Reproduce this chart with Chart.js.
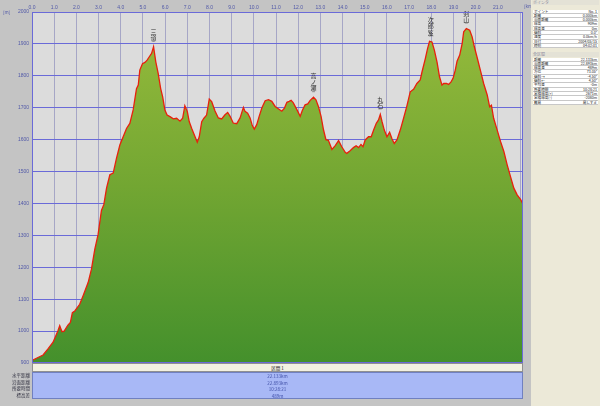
<!DOCTYPE html>
<html><head><meta charset="utf-8">
<script src="https://cdn.jsdelivr.net/npm/chart.js@4/dist/chart.umd.min.js"></script>
<style>
html,body{margin:0;padding:0;background:#c4c4c4;}
#wrap{position:relative;width:600px;height:406px;overflow:hidden;background:#c4c4c4;font-family:"Noto Sans CJK JP","DejaVu Sans",sans-serif;}
canvas{position:absolute;left:0;top:0;}
.abs{position:absolute;white-space:nowrap;}
#side{left:531px;top:0;width:69px;height:406px;background:#ece9d8;}
.hdr{position:absolute;left:1px;width:67px;height:5px;font-size:4px;line-height:5px;color:#9090a0;background:#e4e2d6;padding-left:1px;box-sizing:border-box;}
.row{position:absolute;left:2px;width:65px;height:4.33px;font-size:3.6px;line-height:4.33px;color:#202020;background:#fff;border-bottom:0.5px solid #c8c8c8;box-sizing:border-box;}
.row span.l{position:absolute;left:1px;}
.row span.v{position:absolute;right:1px;}
#sec{left:32px;top:363px;width:491px;height:9px;background:#f3f1e2;border:0.5px solid #909090;box-sizing:border-box;font-size:4.5px;line-height:9px;text-align:center;color:#202020;}
#blue{left:32px;top:372px;width:491px;height:27px;background:#a8b8f6;border:0.5px solid #7080c0;box-sizing:border-box;}
.bv{position:absolute;left:0;width:100%;text-align:center;font-size:4.5px;height:6.5px;line-height:6.5px;color:#4050a8;}
.bl{position:absolute;right:570px;font-size:4.5px;height:6.5px;line-height:6.5px;color:#303040;text-align:right;}
</style></head>
<body><div id="wrap">
<canvas id="c" width="600" height="406"></canvas>
<div class="abs" style="left:3px;top:9px;font-size:4.5px;color:#5058a8;">[m]</div>
<div class="abs" style="left:524px;top:3px;font-size:4.5px;color:#5058a8;">[km]</div>
<div class="abs" id="side"></div>
<div class="abs" id="sec">区間 1</div>
<div class="abs" id="blue"></div>
</div>
<script>
// ---- data (distance km, elevation m) ----
const dist = [0.00,0.20,0.50,0.72,0.95,1.17,1.25,1.35,1.45,1.62,1.73,1.82,1.93,2.15,2.30,2.53,2.68,2.83,2.98,3.13,3.24,3.36,3.51,3.66,3.81,3.96,4.11,4.26,4.41,4.56,4.71,4.79,4.86,4.98,5.09,5.19,5.28,5.39,5.48,5.58,5.69,5.80,5.89,5.99,6.09,6.22,6.37,6.52,6.67,6.79,6.89,7.00,7.09,7.20,7.35,7.45,7.54,7.65,7.75,7.87,7.99,8.10,8.25,8.40,8.55,8.70,8.82,8.93,9.07,9.23,9.38,9.53,9.60,9.72,9.83,9.93,10.02,10.13,10.24,10.36,10.51,10.66,10.81,10.96,11.10,11.26,11.38,11.49,11.59,11.68,11.78,11.94,12.09,12.19,12.31,12.43,12.54,12.69,12.80,12.91,13.03,13.14,13.25,13.36,13.52,13.67,13.82,13.97,14.12,14.19,14.34,14.49,14.61,14.72,14.83,14.92,15.02,15.17,15.29,15.40,15.52,15.62,15.70,15.78,15.88,16.00,16.12,16.23,16.33,16.45,16.60,16.75,16.90,17.05,17.20,17.35,17.50,17.58,17.73,17.83,17.92,18.03,18.14,18.26,18.37,18.48,18.56,18.68,18.78,18.89,18.98,19.08,19.16,19.28,19.39,19.46,19.58,19.73,19.84,19.94,20.06,20.21,20.36,20.52,20.63,20.71,20.81,20.97,21.12,21.27,21.42,21.57,21.72,21.87,22.02,22.133];
const elev = [908,915,925,944,965,1001,1017,998,1000,1019,1027,1058,1063,1084,1110,1152,1194,1256,1303,1378,1397,1448,1490,1495,1542,1583,1609,1635,1651,1693,1760,1771,1818,1838,1842,1849,1859,1870,1891,1844,1807,1760,1734,1693,1677,1672,1665,1667,1658,1667,1706,1688,1656,1635,1609,1592,1609,1656,1667,1677,1727,1719,1690,1668,1665,1678,1685,1673,1652,1650,1668,1701,1689,1683,1668,1644,1633,1647,1673,1699,1722,1725,1720,1704,1697,1689,1699,1717,1720,1723,1715,1694,1673,1692,1709,1712,1723,1733,1725,1704,1673,1631,1600,1598,1569,1581,1597,1577,1560,1557,1565,1575,1581,1575,1585,1578,1599,1609,1609,1630,1651,1662,1679,1656,1630,1609,1623,1602,1588,1599,1630,1667,1706,1750,1758,1776,1787,1812,1854,1885,1908,1906,1880,1842,1797,1771,1776,1776,1773,1781,1792,1818,1846,1865,1901,1938,1948,1943,1922,1891,1859,1818,1776,1740,1703,1708,1667,1630,1594,1563,1521,1484,1448,1427,1413,1398];
const peakNames = ["三嶺","高ノ瀬","丸石","次郎笈","剣山"];
const peakKm    = [5.48,12.69,15.70,17.97,19.58];
const peakElev  = [1891,1733,1679,1908,1948];

const pointLabels = ["ポイント","距離","沿面距離","標高","標高差","傾斜","速度","日付","時刻"];
const pointValues = ["No. 1","0.000km","0.000km","909m","0m","0.0°","0.0km/h","2004/05/15","04:02:01"];
const totalLabels = ["距離","沿面距離","標高差","方位","傾斜→","傾斜←","平均差","所要時間","累積標高(+)","累積標高(-)","難易"];
const totalValues = ["22.133km","22.893km","489m","73.05°","-4.50°","4.50°","-0m","10:28:21","2671m","-2080m","易しすぎ"];
const secLabels = ["水平距離","沿面距離","所要時間","標高差"];
const secValues = ["22.133km","22.893km","10:28:21","489m"];

// ---- side panel & bottom table (text) ----
const side = document.getElementById('side');
function addHdr(t, top){const d=document.createElement('div');d.className='hdr';d.style.top=top+'px';d.textContent=t;side.appendChild(d);}
function addRows(labels, values, top){labels.forEach((l,i)=>{const r=document.createElement('div');r.className='row';r.style.top=(top+i*4.33)+'px';r.innerHTML='<span class="l"></span><span class="v"></span>';r.children[0].textContent=l;r.children[1].textContent=values[i];side.appendChild(r);});}
addHdr('ポインタ',0); addRows(pointLabels,pointValues,9.5);
addHdr('全区間',52); addRows(totalLabels,totalValues,57.5);
const blue=document.getElementById('blue'), wrap=document.getElementById('wrap');
secValues.forEach((v,i)=>{const d=document.createElement('div');d.className='bv';d.style.top=(i*6.5)+'px';d.textContent=v;blue.appendChild(d);
 const l=document.createElement('div');l.className='abs bl';l.style.top=(372+i*6.5)+'px';l.textContent=secLabels[i];wrap.appendChild(l);});

// ---- chart ----
const pts = dist.map((d,i)=>({x:d,y:elev[i]}));
const bgPlugin = {id:'bg', beforeDraw(ch){const {ctx,chartArea:a}=ch;ctx.save();ctx.fillStyle='#c4c4c4';ctx.fillRect(0,0,ch.width,ch.height);ctx.fillStyle='#dcdcdc';ctx.fillRect(a.left,a.top,a.right-a.left,a.bottom-a.top);ctx.restore();},
 afterDraw(ch){const {ctx,chartArea:a}=ch;ctx.save();ctx.strokeStyle='#6a6ad8';ctx.lineWidth=1;ctx.strokeRect(a.left+0.5,a.top+0.5,a.right-a.left-1,a.bottom-a.top-1);ctx.restore();}};
const peakPlugin = {id:'peaks', afterDatasetsDraw(ch){const {ctx,scales:{x,y}}=ch;ctx.save();ctx.font='6px "Noto Sans CJK JP"';ctx.fillStyle='#303030';ctx.textAlign='center';ctx.textBaseline='bottom';
 peakNames.forEach((n,i)=>{const px=x.getPixelForValue(peakKm[i]);let py=y.getPixelForValue(peakElev[i])-6;
  ctx.strokeStyle='#606060';ctx.lineWidth=0.6;ctx.beginPath();ctx.moveTo(px-1.5,py+0.5);ctx.lineTo(px+1.5,py+0.5);ctx.stroke();
  const chars=[...n];for(let k=chars.length-1;k>=0;k--){ctx.fillText(chars[k],px,py);py-=6.2;}});ctx.restore();}};
new Chart(document.getElementById('c'),{
 type:'line',
 data:{datasets:[{data:pts,borderColor:'#e8200c',borderWidth:1.3,pointRadius:0,tension:0,fill:'start',
  backgroundColor:(ctx)=>{const a=ctx.chart.chartArea;if(!a)return '#6aa032';const g=ctx.chart.ctx.createLinearGradient(0,a.top,0,a.bottom);g.addColorStop(0,'#98bc3c');g.addColorStop(0.5,'#72a632');g.addColorStop(1,'#44902c');return g;}}]},
 options:{responsive:false,animation:false,devicePixelRatio:1,
  layout:{padding:{left:0,top:0,right:77,bottom:43}},
  plugins:{legend:{display:false},tooltip:{enabled:false}},
  scales:{
   x:{type:'linear',position:'top',min:0,max:22.133,
      ticks:{stepSize:1,includeBounds:false,autoSkip:false,maxRotation:0,padding:1,font:{size:5},color:'#5058a8',callback:(v)=>v<=21?Number(v).toFixed(1):''},
      grid:{color:'#a6a6c6',lineWidth:1,drawTicks:false},border:{display:false},
      afterFit:(s)=>{s.height=12;}},
   y:{min:900,max:2000,
      ticks:{stepSize:100,padding:3,font:{size:5},color:'#5058a8',callback:(v)=>String(v)},
      grid:{color:'#6a6ad8',lineWidth:1,drawTicks:false},border:{display:false},
      afterFit:(s)=>{s.width=32;}}
  }},
 plugins:[bgPlugin,peakPlugin]
});
</script>
</body></html>
